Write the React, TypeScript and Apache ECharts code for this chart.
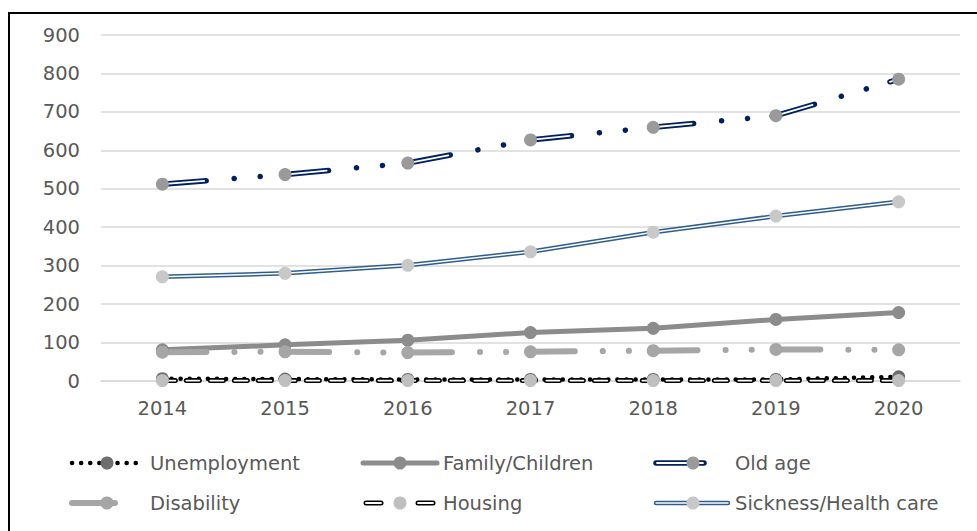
import React, { useEffect, useRef } from "react";
import * as echarts from "echarts";

const years = ["2014", "2015", "2016", "2017", "2018", "2019", "2020"];
const unemployment = [6, 5, 4, 4, 4, 4, 11];
const familyChildren = [81, 94, 106, 126, 137, 160, 178];
const oldAge = [512, 537, 567, 627, 660, 690, 785];
const disability = [75, 76, 74, 76, 79, 82, 81];
const housing = [1, 1, 1, 1, 1, 1, 1];
const sicknessHealth = [271, 280, 301, 336, 387, 429, 466];
const yMin = 0;
const yMax = 900;
const yInterval = 100;
const seriesNames = [
  "Unemployment",
  "Family/Children",
  "Old age",
  "Disability",
  "Housing",
  "Sickness/Health care",
];

const FONT = "DejaVu Sans";
const TXT = "#595959";
const NAVY = "#002060";
const STEEL = "#2e5d8e";
const LDDOT = [44, 28, 0.1, 26, 0.1, 24.6];

export default function App() {
  const ref = useRef<HTMLDivElement>(null);
  useEffect(() => {
    if (!ref.current) return;
    const chart = echarts.init(ref.current, null, { renderer: "svg" });
    const sym = (color: string) => ({
      symbol: "circle",
      symbolSize: 13,
      showSymbol: true,
      itemStyle: { color, borderWidth: 0 },
    });
    const noSym = { symbol: "none", showSymbol: false };
    const base = { type: "line", emphasis: { disabled: true }, silent: true };

    const series: any[] = [
      {
        ...base,
        name: seriesNames[0],
        data: unemployment,
        lineStyle: { color: "#000", width: 4.5, type: [0.1, 9], cap: "round" },
        ...sym("#6e6e6e"),
      },
      {
        ...base,
        name: seriesNames[1],
        data: familyChildren,
        lineStyle: { color: "#8c8c8c", width: 5 },
        ...sym("#8c8c8c"),
      },
      {
        ...base,
        name: seriesNames[2],
        data: oldAge,
        lineStyle: { color: NAVY, width: 5.5, type: LDDOT, cap: "round" },
        ...noSym,
      },
      {
        ...base,
        name: seriesNames[2] + " ",
        data: oldAge,
        lineStyle: { color: "#fff", width: 1.8, type: [42, 80.8], cap: "round" },
        ...sym("#9a9a9a"),
      },
      {
        ...base,
        name: seriesNames[3],
        data: disability,
        lineStyle: { color: "#a6a6a6", width: 6, type: LDDOT, cap: "round" },
        ...sym("#a6a6a6"),
      },
      {
        ...base,
        name: seriesNames[4],
        data: housing,
        lineStyle: { color: "#000", width: 5, type: [13, 11], cap: "round" },
        ...noSym,
      },
      {
        ...base,
        name: seriesNames[4] + " ",
        data: housing,
        lineStyle: { color: "#fff", width: 1.8, type: [13, 11], cap: "round" },
        ...sym("#bfbfbf"),
      },
      {
        ...base,
        name: seriesNames[5],
        data: sicknessHealth,
        lineStyle: { color: STEEL, width: 4.5 },
        ...noSym,
      },
      {
        ...base,
        name: seriesNames[5] + " ",
        data: sicknessHealth,
        lineStyle: { color: "#fff", width: 1.5 },
        ...sym("#c8c8c8"),
      },
    ];

    // custom legend
    const colText = [150, 443, 735];
    const colKey = [70, 363, 655];
    const rows = [463, 503];
    const g: any[] = [];
    const line = (x1: number, x2: number, y: number, stroke: string, w: number, dash?: number[]) => ({
      type: "line",
      silent: true,
      shape: { x1, y1: y, x2, y2: y },
      style: { stroke, lineWidth: w, lineCap: "round", lineDash: dash },
    });
    const dot = (x: number, y: number, fill: string) => ({
      type: "circle",
      silent: true,
      shape: { cx: x, cy: y, r: 6.5 },
      style: { fill },
    });
    const text = (x: number, y: number, t: string) => ({
      type: "text",
      silent: true,
      x,
      y,
      style: { text: t, fill: TXT, font: `19.5px "${FONT}"`, verticalAlign: "middle", align: "left" },
    });
    // Unemployment
    g.push(line(colKey[0] + 2, colKey[0] + 72, rows[0], "#000", 4.5, [0.1, 9]));
    g.push(dot(colKey[0] + 37, rows[0], "#6e6e6e"));
    g.push(text(colText[0], rows[0], seriesNames[0]));
    // Family
    g.push(line(colKey[1], colKey[1] + 74, rows[0], "#8c8c8c", 5));
    g.push(dot(colKey[1] + 37, rows[0], "#8c8c8c"));
    g.push(text(colText[1], rows[0], seriesNames[1]));
    // Old age
    g.push(line(colKey[2] + 1, colKey[2] + 49, rows[0], NAVY, 5.5));
    g.push(line(colKey[2] + 2, colKey[2] + 48, rows[0], "#fff", 1.8));
    g.push(dot(colKey[2] + 38, rows[0], "#9a9a9a"));
    g.push(text(colText[2], rows[0], seriesNames[2]));
    // Disability
    g.push(line(colKey[0] + 2, colKey[0] + 45, rows[1], "#a6a6a6", 6));
    g.push(dot(colKey[0] + 37, rows[1], "#a6a6a6"));
    g.push(text(colText[0], rows[1], seriesNames[3]));
    // Housing
    g.push(line(colKey[1] + 3, colKey[1] + 18, rows[1], "#000", 5));
    g.push(line(colKey[1] + 3, colKey[1] + 18, rows[1], "#fff", 1.8));
    g.push(line(colKey[1] + 55, colKey[1] + 70, rows[1], "#000", 5));
    g.push(line(colKey[1] + 55, colKey[1] + 70, rows[1], "#fff", 1.8));
    g.push(dot(colKey[1] + 37, rows[1], "#bfbfbf"));
    g.push(text(colText[1], rows[1], seriesNames[4]));
    // Sickness
    g.push(line(colKey[2] + 1, colKey[2] + 73, rows[1], STEEL, 4.5));
    g.push(line(colKey[2] + 1, colKey[2] + 73, rows[1], "#fff", 1.5));
    g.push(dot(colKey[2] + 38, rows[1], "#c8c8c8"));
    g.push(text(colText[2], rows[1], seriesNames[5]));
    // frame
    g.push({
      type: "rect",
      silent: true,
      shape: { x: 9, y: 13, width: 990, height: 540 },
      style: { fill: "none", stroke: "#000", lineWidth: 2 },
    });

    chart.setOption({
      animation: false,
      backgroundColor: "#fff",
      grid: { left: 101, right: 17, top: 35, bottom: 150, containLabel: false },
      xAxis: {
        type: "category",
        data: years,
        boundaryGap: true,
        axisLine: { show: true, lineStyle: { color: "#d9d9d9", width: 1.5 } },
        axisTick: { show: false },
        axisLabel: { color: TXT, fontSize: 19.5, fontFamily: FONT, margin: 17 },
      },
      yAxis: {
        type: "value",
        min: yMin,
        max: yMax,
        interval: yInterval,
        axisLine: { show: false },
        axisTick: { show: false },
        splitLine: { lineStyle: { color: "#d9d9d9", width: 1.5 } },
        axisLabel: { color: TXT, fontSize: 19.5, fontFamily: FONT, margin: 21 },
      },
      series,
      graphic: g,
    });
    return () => chart.dispose();
  }, []);
  return (
    <div
      ref={ref}
      style={{ position: "absolute", left: 0, top: 0, width: 977, height: 531 }}
    />
  );
}
